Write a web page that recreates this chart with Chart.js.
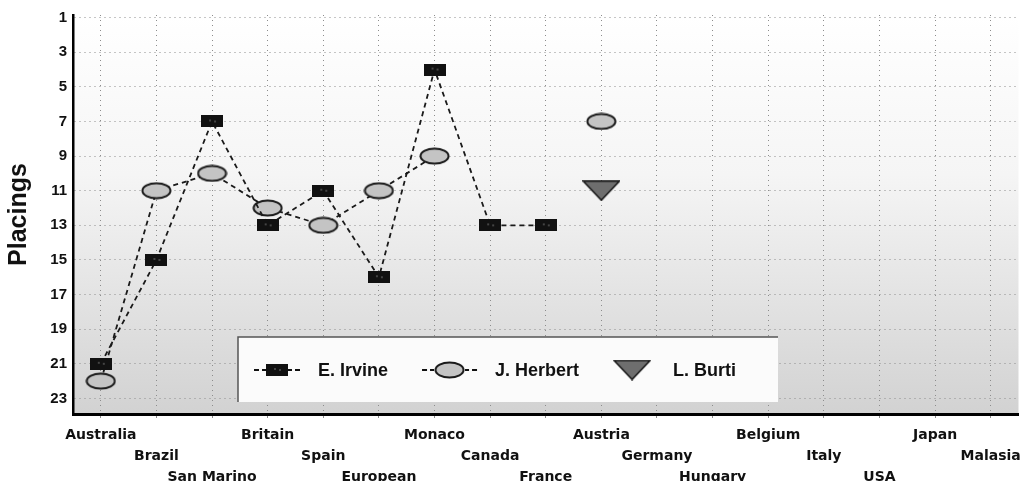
<!DOCTYPE html>
<html lang="en">
<head>
    <meta charset="UTF-8">
    <title>Placings</title>
    <script src="https://cdn.jsdelivr.net/npm/chart.js"></script>
    <style>
        body { margin: 0; background: #fff; }
        #wrap { width: 1028px; height: 481px; }
    </style>
</head>
<body>
    <div id="wrap"><canvas id="placings"></canvas></div>

    <script>
        // race calendar and finishing positions
        const races = ["Australia", "Brazil", "San Marino", "Britain", "Spain", "European", "Monaco",
            "Canada", "France", "Austria", "Germany", "Hungary", "Belgium", "Italy", "USA", "Japan", "Malasia"];
        const irvine  = [21, 15, 7, 13, 11, 16, 4, 13, 13, null, null, null, null, null, null, null, null];
        const herbert = [22, 11, 10, 12, 13, 11, 9, null, null, 7, null, null, null, null, null, null, null];
        const burti   = [null, null, null, null, null, null, null, null, null, 11, null, null, null, null, null, null, null];
        const placingTicks = [1, 3, 5, 7, 9, 11, 13, 15, 17, 19, 21, 23];

        // marker images
        function makeMarker(w, h, draw) {
            const c = document.createElement("canvas");
            c.width = w; c.height = h;
            draw(c.getContext("2d"), w, h);
            return c;
        }
        const rectMarker = makeMarker(22, 12, (g, w, h) => {
            g.fillStyle = "#111";
            g.fillRect(0, 0, w, h);
            g.fillStyle = "#444";
            g.fillRect(8, 4, 2, 2);
            g.fillRect(13, 5, 2, 2);
        });
        const ovalMarker = makeMarker(31, 18, (g, w, h) => {
            g.beginPath();
            g.ellipse(w / 2, h / 2, w / 2 - 1.5, h / 2 - 1.5, 0, 0, Math.PI * 2);
            g.fillStyle = "#c4c4c4";
            g.fill();
            g.lineWidth = 2;
            g.strokeStyle = "#1a1a1a";
            g.stroke();
        });
        const triMarker = makeMarker(38, 21, (g, w, h) => {
            g.beginPath();
            g.moveTo(1, 1);
            g.lineTo(w - 1, 1);
            g.lineTo(w / 2, h - 1);
            g.closePath();
            g.fillStyle = "#6e6e6e";
            g.fill();
            g.lineWidth = 1.5;
            g.strokeStyle = "#111";
            g.stroke();
        });

        const plotBackground = {
            id: "plotBackground",
            beforeDraw(chart) {
                const { ctx, chartArea: a } = chart;
                const grad = ctx.createLinearGradient(0, a.top, 0, a.bottom);
                grad.addColorStop(0, "#ffffff");
                grad.addColorStop(0.4, "#f5f5f5");
                grad.addColorStop(1, "#d2d2d2");
                ctx.save();
                ctx.fillStyle = grad;
                ctx.fillRect(a.left, a.top, a.right - a.left, a.bottom - a.top);
                ctx.restore();
            }
        };

        // legend box drawn inside the plot
        const boxLegend = {
            id: "boxLegend",
            afterDraw(chart) {
                const ctx = chart.ctx;
                const bx = 238, by = 337, bw = 540, bh = 65;
                ctx.save();
                ctx.fillStyle = "#fbfbfb";
                ctx.fillRect(bx, by, bw, bh);
                ctx.strokeStyle = "#555";
                ctx.lineWidth = 1.5;
                ctx.beginPath();
                ctx.moveTo(bx, by + bh);
                ctx.lineTo(bx, by);
                ctx.lineTo(bx + bw, by);
                ctx.stroke();

                const cy = by + 33;
                let x = bx + 16;
                ctx.font = "bold 18px 'Liberation Sans', Arial, sans-serif";
                ctx.textBaseline = "middle";
                ctx.fillStyle = "#111";
                chart.data.datasets.forEach(ds => {
                    const img = ds.pointStyle;
                    if (ds.showLine !== false) {
                        ctx.fillRect(x, cy - 1, 5, 2);
                        ctx.fillRect(x + 8, cy - 1, 4, 2);
                        ctx.drawImage(img, x + 12, cy - img.height / 2);
                        const ex = x + 12 + img.width;
                        ctx.fillRect(ex, cy - 1, 4, 2);
                        ctx.fillRect(ex + 7, cy - 1, 5, 2);
                        x = ex + 30;
                    } else {
                        ctx.drawImage(img, x, cy - img.height / 2);
                        x += img.width + 22;
                    }
                    ctx.fillText(ds.label, x, cy + 1);
                    x += ctx.measureText(ds.label).width + 34;
                });
                ctx.restore();
            }
        };

        const lineStyle = { borderColor: "#1a1a1a", borderWidth: 1.8, borderDash: [5, 4], spanGaps: false, fill: false, tension: 0 };

        new Chart(document.getElementById("placings"), {
            type: "line",
            data: {
                labels: races,
                datasets: [
                    Object.assign({ label: "E. Irvine", data: irvine, pointStyle: rectMarker }, lineStyle),
                    Object.assign({ label: "J. Herbert", data: herbert, pointStyle: ovalMarker }, lineStyle),
                    { label: "L. Burti", data: burti, pointStyle: triMarker, showLine: false }
                ]
            },
            options: {
                responsive: true,
                maintainAspectRatio: false,
                animation: false,
                layout: { padding: { top: 15, right: 7, bottom: 0, left: 0 } },
                plugins: {
                    legend: { display: false },
                    tooltip: { enabled: false }
                },
                scales: {
                    x: {
                        offset: true,
                        afterFit: s => { s.height = 67; },
                        grid: { color: "#8c8c8c", offset: false, drawTicks: true, tickLength: 4 },
                        border: { display: true, color: "#000", width: 3, dash: [1, 4] },
                        ticks: {
                            autoSkip: false,
                            maxRotation: 0,
                            minRotation: 0,
                            padding: 7,
                            color: "#111",
                            font: { family: "'DejaVu Sans', sans-serif", size: 14, weight: "bold", lineHeight: 1.5 },
                            callback: (v, i) => Array(i % 3).fill("").concat(races[i])
                        }
                    },
                    y: {
                        reverse: true,
                        min: 0.85,
                        max: 23.9,
                        afterFit: s => { s.width = 73; },
                        afterBuildTicks: s => { s.ticks = placingTicks.map(v => ({ value: v })); },
                        grid: { color: "#8c8c8c", drawTicks: false },
                        border: { display: true, color: "#000", width: 2.5, dash: [1, 4] },
                        ticks: {
                            padding: 6,
                            color: "#111",
                            font: { family: "'Liberation Sans', Arial, sans-serif", size: 15, weight: "bold" }
                        },
                        title: {
                            display: true,
                            text: "Placings",
                            color: "#111",
                            padding: { top: 4, bottom: 0 },
                            font: { family: "'Liberation Sans', Arial, sans-serif", size: 25, weight: "bold" }
                        }
                    }
                }
            },
            plugins: [plotBackground, boxLegend]
        });
    </script>
</body>
</html>
